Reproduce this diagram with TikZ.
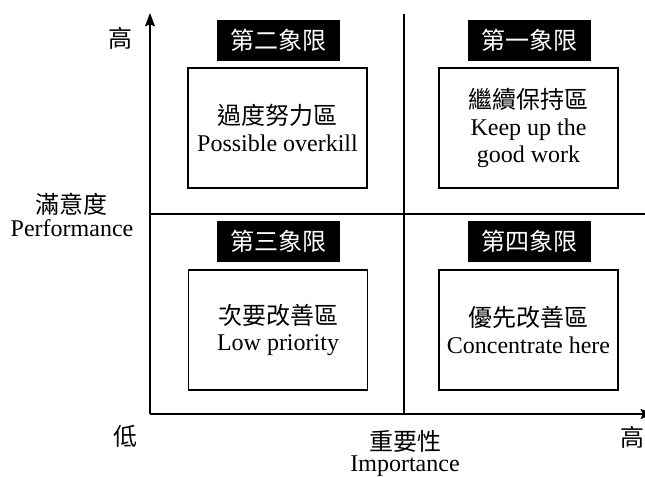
\documentclass[tikz,border=0pt]{standalone}
\usepackage{fontspec}
\setmainfont{Liberation Serif}
\newfontfamily\cjk{Noto Sans CJK TC}
\usetikzlibrary{arrows.meta}
\begin{document}
\begin{tikzpicture}[x=0.75pt,y=-0.75pt,
  txt/.style={font=\fontsize{18}{20}\selectfont, inner sep=0pt},
  cjktxt/.style={font=\cjk\fontsize{18}{20}\selectfont, inner sep=0pt},
  tag/.style={fill=black, text=white, font=\cjk\fontsize{18}{20}\selectfont, minimum width=92.25pt, minimum height=30.75pt, inner sep=0pt},
  zone/.style={draw=black, line width=1pt, fill=white, font=\fontsize{18}{20}\selectfont, align=center, minimum width=134.25pt, minimum height=90pt, inner sep=0pt},
  axis/.style={line width=1.1pt, -{Stealth[length=10pt,width=7.5pt,inset=1.5pt]}},
  divider/.style={line width=1.1pt}]
\useasboundingbox (0,0) rectangle (645,476);
% axes
\coordinate (O) at (150,414);
\coordinate (ytip) at (150,13);
\coordinate (xtip) at (654,414);
\coordinate (vtop) at (404,14);
\coordinate (vbot) at (404,414);
\coordinate (hl) at (150,214);
\coordinate (hr) at (645,214);
\draw[divider] (vtop) -- (vbot);
\draw[divider] (hl) -- (hr);
\draw[axis] (O) -- (ytip);
\draw[axis] (O) -- (xtip);
% tags
\node[tag] (t2) at (278.5,40.5) {第二象限};
\node[tag] (t1) at (529.5,40.5) {第一象限};
\node[tag] (t3) at (278.5,241.5) {第三象限};
\node[tag] (t4) at (529.5,241.5) {第四象限};
% zones
\node[zone] (z2) at (277.5,128) {{\cjk 過度努力區}\\Possible overkill};
\node[zone] (z1) at (528.5,128) {{\cjk 繼續保持區}\\Keep up the\\good work};
\node[zone] (z3) at (278,330) {{\cjk 次要改善區}\\Low priority};
\node[zone] (z4) at (528.5,330) {{\cjk 優先改善區}\\Concentrate here};
% axis labels
\node[cjktxt] (yhigh) at (120,38) {高};
\node[cjktxt] (ycn) at (71,204) {滿意度};
\node[txt] (yen) at (72,228) {Performance};
\node[cjktxt] (low) at (125,436) {低};
\node[cjktxt] (xcn) at (405,441) {重要性};
\node[txt] (xen) at (405,466) {Importance};
\node[cjktxt] (xhigh) at (632,437) {高};
\end{tikzpicture}
\end{document}
